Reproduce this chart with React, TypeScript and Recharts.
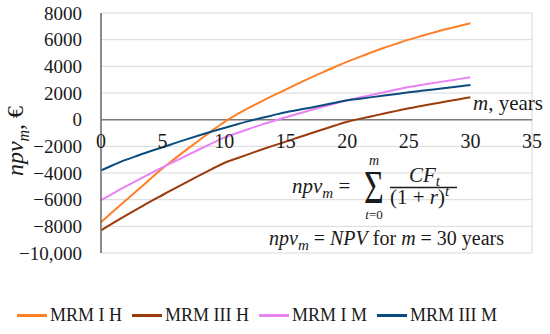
import React from 'react';
import {
  LineChart,
  Line,
  XAxis,
  YAxis,
  CartesianGrid,
  ReferenceLine,
  ReferenceDot,
} from 'recharts';

const years = [
  0, 1, 2, 3, 4, 5, 6, 7, 8, 9, 10, 11, 12, 13, 14, 15, 16, 17, 18, 19, 20,
  21, 22, 23, 24, 25, 26, 27, 28, 29, 30,
];

const mrmIH = [
  -7700, -6870, -6060, -5260, -4450, -3650, -2920, -2210, -1520, -840, -180,
  370, 880, 1360, 1820, 2250, 2700, 3130, 3550, 3950, 4350, 4710, 5060, 5390,
  5700, 6000, 6270, 6530, 6780, 7010, 7230,
];

const mrmIIIH = [
  -8300, -7740, -7200, -6670, -6150, -5650, -5150, -4660, -4180, -3710, -3250,
  -2910, -2580, -2260, -1950, -1650, -1340, -1040, -740, -440, -150, 60, 260,
  460, 660, 850, 1020, 1190, 1360, 1520, 1680,
];

const mrmIM = [
  -6050, -5520, -5010, -4520, -4040, -3580, -3120, -2670, -2220, -1780, -1350,
  -1020, -700, -390, -100, 180, 450, 710, 960, 1210, 1450, 1660, 1860, 2060,
  2260, 2450, 2600, 2750, 2890, 3040, 3180,
];

const mrmIIIM = [
  -3800, -3400, -3020, -2690, -2370, -2070, -1760, -1460, -1170, -890, -620,
  -360, -110, 120, 340, 560, 730, 900, 1080, 1270, 1450, 1570, 1690, 1810,
  1930, 2050, 2160, 2270, 2380, 2490, 2600,
];

const seriesKeys = ['iH', 'iiiH', 'iM', 'iiiM'];
const seriesNames = ['MRM I H', 'MRM III H', 'MRM I M', 'MRM III M'];
const seriesColors = ['#FF7F27', '#9C3A0C', '#E982F5', '#0B4C7E'];

const xTicks = [0, 5, 10, 15, 20, 25, 30, 35];
const xTickLabels = ['0', '5', '10', '15', '20', '25', '30', '35'];
const yTicks = [-10000, -8000, -6000, -4000, -2000, 0, 2000, 4000, 6000, 8000];
const yTickLabels = [
  '\u221210,000',
  '\u22128000',
  '\u22126000',
  '\u22124000',
  '\u22122000',
  '0',
  '2000',
  '4000',
  '6000',
  '8000',
];

const data = years.map((m, i) => ({
  m,
  iH: mrmIH[i],
  iiiH: mrmIIIH[i],
  iM: mrmIM[i],
  iiiM: mrmIIIM[i],
}));

const FONT = "'Liberation Serif', 'DejaVu Serif', serif";

const YTick = (props: any) => {
  const { x, y, payload } = props;
  const idx = yTicks.indexOf(payload.value);
  const label = idx >= 0 ? yTickLabels[idx] : String(payload.value);
  return (
    <text
      x={x}
      y={y}
      dy="0.35em"
      textAnchor="end"
      style={{ fontFamily: FONT }}
      fontSize={19}
      fill="#1a1a1a"
    >
      {label}
    </text>
  );
};

export default function App() {
  return (
    <div
      style={{
        position: 'absolute',
        left: 0,
        top: 0,
        width: 550,
        height: 334,
        fontFamily: FONT,
      }}
    >
      <LineChart
        width={550}
        height={334}
        data={data}
        margin={{ top: 13, right: 18, bottom: 81, left: 0 }}
        style={{ fontFamily: FONT }}
      >
        <CartesianGrid stroke="#d9d9d9" strokeWidth={1} />
        <XAxis
          dataKey="m"
          type="number"
          domain={[0, 35]}
          ticks={xTicks}
          tick={false}
          axisLine={false}
          tickLine={false}
          height={0}
        />
        <YAxis
          type="number"
          domain={[-10000, 8000]}
          ticks={yTicks}
          width={101}
          tickLine={false}
          tickMargin={13}
          axisLine={{ stroke: '#6b6b6b', strokeWidth: 1.5 }}
          tick={<YTick />}
          interval={0}
        />
        <ReferenceLine y={0} stroke="#7a7a7a" strokeWidth={1.5} />
        {xTicks.map((t, i) => (
          <ReferenceDot
            key={t}
            x={t}
            y={0}
            r={1}
            fill="none"
            stroke="none"
            label={{
              value: xTickLabels[i],
              position: 'bottom',
              offset: 13,
              style: { fontFamily: FONT },
              fontSize: 20,
              fill: '#1a1a1a',
            }}
          />
        ))}
        {seriesKeys.map((k, i) => (
          <Line
            key={k}
            type="monotone"
            dataKey={k}
            name={seriesNames[i]}
            stroke={seriesColors[i]}
            strokeWidth={2}
            dot={false}
            isAnimationActive={false}
          />
        ))}
      </LineChart>
      <svg
        width={550}
        height={334}
        style={{ position: 'absolute', left: 0, top: 0, pointerEvents: 'none', fontFamily: FONT }}
      >
        {/* Y axis title */}
        <text
          transform="translate(23,141) rotate(-90)"
          textAnchor="middle"
          fontSize={24}
          fill="#1a1a1a"
        >
          <tspan fontStyle="italic">npv</tspan>
          <tspan fontStyle="italic" fontSize={16} dy={6}>m</tspan>
          <tspan dy={-6}>, €</tspan>
        </text>
        {/* x axis title */}
        <text x={473} y={110} fontSize={21} fill="#1a1a1a">
          <tspan fontStyle="italic">m</tspan>
          <tspan>, years</tspan>
        </text>
        {/* formula */}
        <g fill="#1a1a1a">
          <text x={292} y={193} fontSize={21}>
            <tspan fontStyle="italic">npv</tspan>
            <tspan fontStyle="italic" fontSize={15} dy={5}>m</tspan>
            <tspan dy={-5}> =</tspan>
          </text>
          <text
            transform="translate(374,203) scale(1,1.35)"
            textAnchor="middle"
            fontSize={34}
          >
            Σ
          </text>
          <text x={374} y={165} textAnchor="middle" fontSize={14} fontStyle="italic">
            m
          </text>
          <text x={374} y={219} textAnchor="middle" fontSize={13}>
            <tspan fontStyle="italic">t</tspan>
            <tspan>=0</tspan>
          </text>
          <text x={409} y={182} fontSize={21}>
            <tspan fontStyle="italic">CF</tspan>
            <tspan fontStyle="italic" fontSize={15} dy={4}>t</tspan>
          </text>
          <line x1={390} x2={457} y1={187.5} y2={187.5} stroke="#1a1a1a" strokeWidth={1.3} />
          <text x={390} y={204} fontSize={21}>
            <tspan>(1 + </tspan>
            <tspan fontStyle="italic">r</tspan>
            <tspan>)</tspan>
            <tspan fontStyle="italic" fontSize={15} dy={-8}>t</tspan>
          </text>
          <text x={269} y={245} fontSize={20}>
            <tspan fontStyle="italic">npv</tspan>
            <tspan fontStyle="italic" fontSize={15} dy={5}>m</tspan>
            <tspan dy={-5}> = </tspan>
            <tspan fontStyle="italic">NPV</tspan>
            <tspan> for </tspan>
            <tspan fontStyle="italic">m</tspan>
            <tspan> = 30 years</tspan>
          </text>
        </g>
      </svg>
      <div
        style={{
          position: 'absolute',
          left: 17,
          top: 305,
          display: 'flex',
          alignItems: 'center',
          fontFamily: FONT,
          fontSize: 18,
          color: '#1a1a1a',
          whiteSpace: 'nowrap',
        }}
      >
        {seriesNames.map((n, i) => (
          <div key={n} style={{ display: 'flex', alignItems: 'center', marginRight: 10 }}>
            <span
              style={{
                display: 'inline-block',
                width: 30,
                height: 2.5,
                background: seriesColors[i],
                marginRight: 3,
              }}
            />
            <span>{n}</span>
          </div>
        ))}
      </div>
    </div>
  );
}
